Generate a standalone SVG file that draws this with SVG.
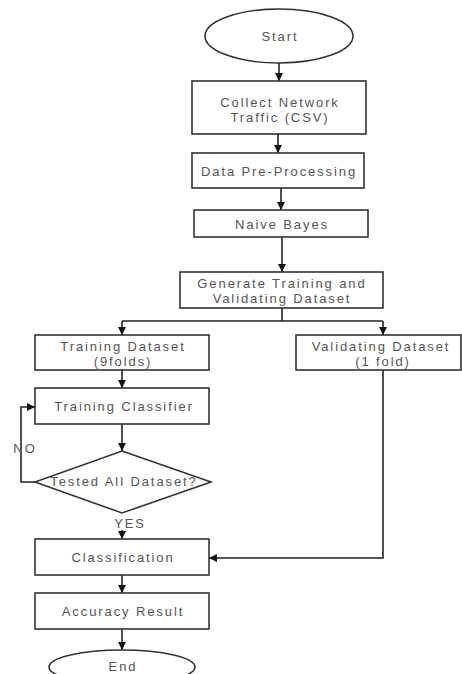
<svg xmlns="http://www.w3.org/2000/svg" width="462" height="674" viewBox="0 0 462 674">
<defs>
<marker id="ah" viewBox="0 0 10 10" refX="10" refY="5" markerWidth="8" markerHeight="8" markerUnits="userSpaceOnUse" orient="auto">
<path d="M0,0 L10,5 L0,10 z" fill="#111"/>
</marker>
</defs>
<style>
.n{fill:#fff;stroke:#333;stroke-width:1.6}
.t{font-family:"Liberation Sans",Arial,sans-serif;font-size:13px;fill:#555;text-anchor:middle;letter-spacing:1.9px}
.c{fill:none;stroke:#222;stroke-width:1.6}
.a{marker-end:url(#ah)}
</style>
<rect width="462" height="674" fill="#fff"/>
<g id="connectors">
<path class="c a" d="M279,63 V81"/>
<path class="c a" d="M278,134 V153"/>
<path class="c a" d="M281,188 V210"/>
<path class="c a" d="M282,237 V272"/>
<path class="c" d="M282,308 V321 M122,321 H383"/>
<path class="c a" d="M122,321 V335"/>
<path class="c a" d="M383,321 V335"/>
<path class="c a" d="M122,370 V388"/>
<path class="c a" d="M122,424 V451"/>
<path class="c a" d="M35,482 H21 V407 H35"/>
<path class="c a" d="M122,530 V539"/>
<path class="c a" d="M383,370 V558 H209"/>
<path class="c a" d="M122,575 V593"/>
<path class="c a" d="M122,629 V650"/>
</g>
<g id="start"><ellipse class="n" cx="279" cy="36" rx="74" ry="27"/><text class="t" x="280" y="41">Start</text></g>
<g id="collect"><rect class="n" x="192" y="81" width="174" height="53"/><text class="t" x="280" y="107">Collect Network</text><text class="t" x="280" y="122">Traffic (CSV)</text></g>
<g id="preprocess"><rect class="n" x="192" y="153" width="172" height="35"/><text class="t" x="279" y="176">Data Pre-Processing</text></g>
<g id="naive"><rect class="n" x="194" y="210" width="174" height="27"/><text class="t" x="282" y="229">Naive Bayes</text></g>
<g id="generate"><rect class="n" x="180" y="272" width="203" height="36"/><text class="t" x="282" y="288">Generate Training and</text><text class="t" x="282" y="303">Validating Dataset</text></g>
<g id="training"><rect class="n" x="35" y="335" width="174" height="35"/><text class="t" x="123" y="351">Training Dataset</text><text class="t" x="123" y="366">(9folds)</text></g>
<g id="validating"><rect class="n" x="296" y="335" width="165" height="35"/><text class="t" x="381" y="351">Validating Dataset</text><text class="t" x="383" y="366">(1 fold)</text></g>
<g id="trainclf"><rect class="n" x="35" y="388" width="174" height="36"/><text class="t" x="124" y="411">Training Classifier</text></g>
<g id="tested"><path class="n" d="M122,451 L211,482 L122,513 L35,482 Z"/><text class="t" x="124" y="486">Tested All Dataset?</text></g>
<text class="t" x="25" y="453">NO</text>
<text class="t" x="130" y="528">YES</text>
<g id="classification"><rect class="n" x="35" y="539" width="174" height="36"/><text class="t" x="123" y="562">Classification</text></g>
<g id="accuracy"><rect class="n" x="35" y="593" width="174" height="36"/><text class="t" x="123" y="616">Accuracy Result</text></g>
<g id="end"><ellipse class="n" cx="122" cy="667" rx="73" ry="17"/><text class="t" x="123" y="671">End</text></g>
</svg>
